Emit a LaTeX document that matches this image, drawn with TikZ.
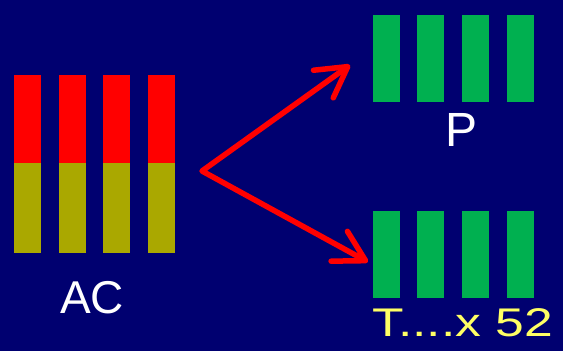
\documentclass[tikz,border=0pt]{standalone}
\usepackage{fontspec}
\setmainfont{Liberation Sans}
\usetikzlibrary{arrows.meta}
\definecolor{navy}{RGB}{0,0,112}
\definecolor{barred}{RGB}{255,0,0}
\definecolor{barolive}{RGB}{170,168,0}
\definecolor{bargreen}{RGB}{0,176,80}
\definecolor{txtyellow}{RGB}{255,255,100}
\tikzset{
  bar/.style={draw=none, inner sep=0pt, minimum width=27pt, anchor=north west},
  redbar/.style={bar, fill=barred, minimum height=88pt},
  olivebar/.style={bar, fill=barolive, minimum height=90pt},
  greenbar/.style={bar, fill=bargreen, minimum height=87pt},
  lbl/.style={inner sep=0pt, text=white},
  arr/.style={draw=barred, line width=5.5pt, line cap=round, line join=round,
    {Straight Barb[length=30pt, width=34pt, line width=5.5pt, round]}-{Straight Barb[length=30pt, width=34pt, line width=5.5pt, round]}}
}
\begin{document}
\begin{tikzpicture}[x=1pt, y=-1pt]
\fill[navy] (0,0) rectangle (563,351);
\useasboundingbox (0,0) rectangle (563,351);
% left column
\foreach \i/\x in {1/14,2/58.5,3/103,4/148}{
  \node[redbar] (r\i) at (\x,75) {};
  \node[olivebar] (o\i) at (\x,163) {};
}
\node[lbl, font=\fontsize{46}{46}\selectfont] (ac) at (92,298) {AC};
% right column
\foreach \i/\x in {1/373,2/417,3/462,4/507}{
  \node[greenbar] (p\i) at (\x,15) {};
  \node[greenbar] (t\i) at (\x,211) {};
}
\node[lbl, font=\fontsize{48}{48}\selectfont] (pl) at (462,130) {P};
\node[lbl, text=txtyellow, font=\fontsize{40}{40}\selectfont, xscale=1.29, transform shape, anchor=west] (tl) at (372,323) {T....x 52};
% arrows
\coordinate (v) at (202,171);
\coordinate (tp) at (350,65);
\coordinate (tb) at (368,262);
\draw[arr] (tp) -- (v) -- (tb);
\end{tikzpicture}
\end{document}
